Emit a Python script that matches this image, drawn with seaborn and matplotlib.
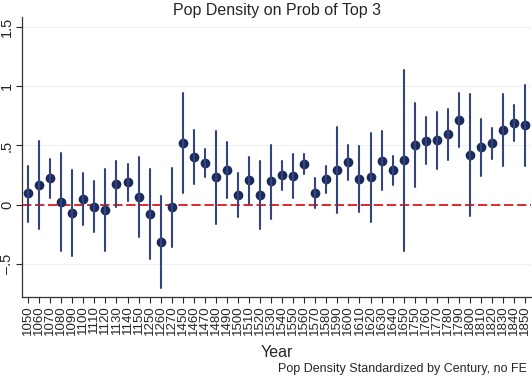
import numpy as np
import pandas as pd
import matplotlib
matplotlib.use("Agg")
import matplotlib.pyplot as plt
import seaborn as sns

# coefficient estimates with 95% CI
years = ["1050", "1060", "1070", "1080", "1090", "1100", "1110", "1120", "1130", "1140",
         "1150", "1250", "1260", "1270", "1450", "1460", "1470", "1480", "1490", "1500",
         "1510", "1520", "1530", "1540", "1550", "1560", "1570", "1580", "1590", "1600",
         "1610", "1620", "1630", "1640", "1650", "1750", "1760", "1770", "1780", "1790",
         "1800", "1810", "1820", "1830", "1840", "1850"]
coef = [0.096, 0.166, 0.222, 0.025, -0.067, 0.051, -0.017, -0.045, 0.177, 0.188,
        0.067, -0.081, -0.315, -0.022, 0.522, 0.404, 0.351, 0.236, 0.295, 0.079,
        0.205, 0.084, 0.197, 0.247, 0.242, 0.343, 0.098, 0.216, 0.292, 0.357,
        0.216, 0.233, 0.371, 0.292, 0.374, 0.506, 0.539, 0.542, 0.593, 0.716,
        0.419, 0.483, 0.522, 0.629, 0.688, 0.669]
ci_hi = [0.326, 0.537, 0.385, 0.438, 0.292, 0.270, 0.199, 0.300, 0.371, 0.343,
         0.400, 0.300, 0.073, 0.306, 0.944, 0.629, 0.469, 0.626, 0.531, 0.264,
         0.399, 0.368, 0.508, 0.371, 0.427, 0.424, 0.222, 0.331, 0.657, 0.503,
         0.492, 0.607, 0.621, 0.413, 1.140, 0.862, 0.742, 0.784, 0.809, 0.944,
         0.930, 0.725, 0.649, 0.930, 0.837, 1.006]
ci_lo = [-0.143, -0.208, 0.059, -0.388, -0.430, -0.174, -0.233, -0.390, -0.017, 0.031,
         -0.270, -0.460, -0.705, -0.357, 0.101, 0.174, 0.230, -0.160, 0.056, -0.104,
         0.003, -0.205, -0.118, 0.124, 0.053, 0.256, -0.028, 0.101, -0.073, 0.208,
         -0.065, -0.143, 0.121, 0.163, -0.390, 0.146, 0.340, 0.301, 0.374, 0.486,
         -0.093, 0.239, 0.390, 0.331, 0.539, 0.331]

# long format: median of (lo, est, hi) = est, full range = CI
long = pd.DataFrame({
    "year": years * 3,
    "val": ci_lo + coef + ci_hi,
})

sns.set_style("white")
plt.rcParams["font.family"] = ["Liberation Sans", "DejaVu Sans"]

fig = plt.figure(figsize=(5.32, 3.77), dpi=100)
ax = fig.add_axes([0.042, 0.213, 0.956, 0.741])

for v in [-0.5, 0.5, 1, 1.5]:
    ax.axhline(v, color="#eef1f4", lw=0.8, zorder=0)

sns.pointplot(data=long, x="year", y="val", order=years,
              estimator="median", errorbar=("pi", 100),
              linestyle="none", marker="o", markersize=7,
              markeredgewidth=0,
              color="#1b2a5c", err_kws={"linewidth": 1.5, "color": "#33457c"},
              ax=ax)

ax.axhline(0, color="#e2282b", lw=1.4, dashes=(4.8, 1.9), zorder=1)

ax.set_xlim(-0.52, len(years) - 0.48)
ax.set_ylim(-0.775, 1.58)
ax.set_yticks([-0.5, 0, 0.5, 1, 1.5])
ax.set_yticklabels(["\u2013.5", "0", ".5", "1", "1.5"], rotation=90, va="center", fontsize=10.5)
ax.tick_params(axis="x", labelrotation=90, labelsize=9.5, length=4, width=0.8, pad=2, bottom=True)
ax.tick_params(axis="y", length=4, width=0.8, pad=2, left=True)

for s in ["top", "right"]:
    ax.spines[s].set_visible(False)
for s in ["left", "bottom"]:
    ax.spines[s].set_color("#333333")
    ax.spines[s].set_linewidth(0.9)

ax.set_xlabel("Year", fontsize=11.5, labelpad=7)
ax.set_ylabel("")
ax.set_title("Pop Density on Prob of Top 3", fontsize=11.5, pad=2)
fig.text(0.991, 0.004, "Pop Density Standardized by Century, no FE",
         ha="right", va="bottom", fontsize=9)

fig.savefig("out.png", dpi=100)
